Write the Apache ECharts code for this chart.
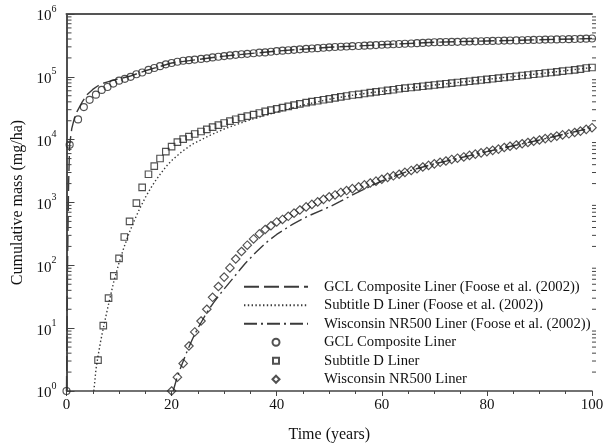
<!DOCTYPE html>
<html><head><meta charset="utf-8">
<script src="https://cdn.jsdelivr.net/npm/echarts@6/dist/echarts.min.js"></script>
<style>html,body{margin:0;padding:0;background:#fff}#c{width:608px;height:448px}</style>
</head><body><div id="c"></div>
<script>
const FONT = '"Liberation Serif","Times New Roman",serif';

// ---- data (time in years, cumulative mass in mg/ha) ----
const NAMES = [
  'GCL Composite Liner (Foose et al. (2002))',
  'Subtitle D Liner (Foose et al. (2002))',
  'Wisconsin NR500 Liner (Foose et al. (2002))',
  'GCL Composite Liner',
  'Subtitle D Liner',
  'Wisconsin NR500 Liner'
];
const X_TICKS = [0, 20, 40, 60, 80, 100];
const Y_TICK_EXP = ['0', '1', '2', '3', '4', '5', '6'];
const MINOR_TICKS = [2,3,4,5,6,7,8,9, 20,30,40,50,60,70,80,90, 200,300,400,500,600,700,800,900,
  2000,3000,4000,5000,6000,7000,8000,9000, 20000,30000,40000,50000,60000,70000,80000,90000,
  200000,300000,400000,500000,600000,700000,800000,900000];

// Foose et al. (2002) curves
const GCL_F_T = [0, 0.2, 0.4, 0.6, 1, 1.5, 2, 3, 4, 5, 6, 7, 8, 9, 10, 12, 15, 20, 30, 40, 50, 60, 70, 80, 90, 100];
const GCL_F_M = [1, 100, 2000, 8300, 15000, 22000, 28000, 40000, 53000, 63000, 72000, 79000, 84000, 89000, 93000, 102000, 125000, 166000, 214000, 257000, 295000, 324000, 355000, 372000, 389000, 407000];

const SUB_F_T = [5.2, 5.6, 6, 6.5, 7, 7.5, 8, 9, 10, 11, 12, 13, 14, 15, 16, 17, 18, 19, 20, 22, 24, 27, 30, 35, 40, 45, 50, 55, 60, 70, 80, 90, 100];
const SUB_F_M = [1, 2.2, 3.6, 6.2, 10, 15.5, 24, 55, 110, 200, 340, 540, 820, 1200, 1680, 2260, 2950, 3780, 4650, 6500, 8500, 11400, 14800, 20800, 27500, 35500, 44000, 52000, 58900, 74100, 91200, 112000, 141000];

const WIS_F_T = [20.3, 21, 22, 23, 24, 25, 26, 27, 28, 29, 30, 31, 32, 33, 34, 36, 38, 40, 43, 46, 50, 52, 55, 60, 65, 70, 80, 90, 100];
const WIS_F_M = [1, 1.6, 2.7, 4.4, 6.8, 10, 14, 19.5, 25.5, 33, 42, 53, 67, 85, 107, 160, 230, 310, 450, 610, 850, 1030, 1400, 2200, 3150, 4121, 6457, 9886, 15500];

// model results (markers)
const GCL_T = [0, 0.6, 2.2, 3.3, 4.4, 5.6, 6.7, 7.8, 8.9, 10,
  11.1, 12.2, 13.3, 14.4, 15.6, 16.7, 17.8, 18.9, 20, 21.1,
  22.2, 23.3, 24.4, 25.6, 26.7, 27.8, 28.9, 30, 31.1, 32.2,
  33.3, 34.4, 35.6, 36.7, 37.8, 38.9, 40, 41.1, 42.2, 43.3,
  44.4, 45.6, 46.7, 47.8, 48.9, 50, 51.1, 52.2, 53.3, 54.4,
  55.6, 56.7, 57.8, 58.9, 60, 61.1, 62.2, 63.3, 64.4, 65.6,
  66.7, 67.8, 68.9, 70, 71.1, 72.2, 73.3, 74.4, 75.6, 76.7,
  77.8, 78.9, 80, 81.1, 82.2, 83.3, 84.4, 85.6, 86.7, 87.8,
  88.9, 90, 91.1, 92.2, 93.3, 94.4, 95.6, 96.7, 97.8, 98.9, 100];
const GCL_M = [1, 8300, 21000, 33000, 43000, 52000, 62000, 69000, 78000, 87000,
  93000, 100000, 110000, 117000, 129000, 138000, 148000, 158000, 166000, 174000,
  180000, 184000, 188000, 193000, 197000, 204000, 209000, 214000, 219000, 224000,
  229000, 232000, 237000, 243000, 245000, 251000, 257000, 261000, 265000, 269000,
  274000, 278000, 282000, 286000, 290000, 295000, 298000, 301000, 304000, 308000,
  310000, 313000, 316000, 320000, 324000, 327000, 330000, 333000, 336000, 339000,
  343000, 347000, 351000, 355000, 356000, 358000, 360000, 361000, 363000, 365000,
  367000, 369000, 372000, 373000, 375000, 377000, 378000, 380000, 382000, 385000,
  387000, 389000, 391000, 393000, 394000, 396000, 398000, 400000, 403000, 405000, 407000];

const SUB_T = [6, 7, 8, 9, 10, 11, 12,
  13.3, 14.4, 15.6, 16.7, 17.8, 18.9, 20, 21.1, 22.2, 23.3,
  24.4, 25.6, 26.7, 27.8, 28.9, 30, 31.1, 32.2, 33.3, 34.4,
  35.6, 36.7, 37.8, 38.9, 40, 41.1, 42.2, 43.3, 44.4, 45.6,
  46.7, 47.8, 48.9, 50, 51.1, 52.2, 53.3, 54.4, 55.6, 56.7,
  57.8, 58.9, 60, 61.1, 62.2, 63.3, 64.4, 65.6, 66.7, 67.8,
  68.9, 70, 71.1, 72.2, 73.3, 74.4, 75.6, 76.7, 77.8, 78.9,
  80, 81.1, 82.2, 83.3, 84.4, 85.6, 86.7, 87.8, 88.9, 90,
  91.1, 92.2, 93.3, 94.4, 95.6, 96.7, 97.8, 98.9, 100];
const SUB_M = [3.1, 11, 30, 68, 129, 282, 501,
  977, 1740, 2820, 3800, 5010, 6460, 7760, 9120, 10200, 11200,
  12300, 13500, 14600, 15800, 17000, 18400, 19700, 21100, 22400, 23700,
  25100, 26600, 28200, 29500, 30900, 32400, 33900, 35500, 37200, 38900,
  40300, 41700, 43200, 44700, 46200, 47900, 49500, 51300, 52500, 54300,
  56200, 57500, 58900, 61000, 62400, 64600, 66100, 67600, 69200, 70800,
  72400, 74100, 75900, 77600, 79400, 81300, 83200, 85100, 87100, 89100,
  91200, 93300, 95500, 97700, 100000, 102000, 105000, 107000, 110000, 112000,
  115000, 117000, 120000, 123000, 126000, 129000, 133000, 138000, 141000];

const WIS_T = [20, 21.1, 22.2, 23.3, 24.4, 25.6, 26.7, 27.8, 28.9, 30,
  31.1, 32.2, 33.3, 34.4, 35.6, 36.7, 37.8, 38.9, 40, 41.1,
  42.2, 43.3, 44.4, 45.6, 46.7, 47.8, 48.9, 50, 51.1, 52.2,
  53.3, 54.4, 55.6, 56.7, 57.8, 58.9, 60, 61.1, 62.2, 63.3,
  64.4, 65.6, 66.7, 67.8, 68.9, 70, 71.1, 72.2, 73.3, 74.4,
  75.6, 76.7, 77.8, 78.9, 80, 81.1, 82.2, 83.3, 84.4, 85.6,
  86.7, 87.8, 88.9, 90, 91.1, 92.2, 93.3, 94.4, 95.6, 96.7,
  97.8, 98.9, 100];
const WIS_M = [1, 1.66, 2.75, 5.2, 8.7, 13, 20, 31, 46, 65,
  91, 126, 166, 209, 263, 316, 372, 427, 490, 537,
  603, 676, 759, 851, 933, 1023, 1122, 1230, 1318, 1445,
  1549, 1660, 1778, 1905, 2042, 2188, 2344, 2512, 2661, 2818,
  3020, 3236, 3467, 3673, 3890, 4121, 4365, 4571, 4842, 5070,
  5309, 5623, 5888, 6166, 6457, 6761, 7079, 7499, 7852, 8222,
  8610, 9016, 9441, 9886, 10400, 10800, 11400, 11900, 12400, 13000,
  13700, 14600, 15500];

const zip = (t, m) => t.map((x, i) => [x, m[i]]);
const INK = '#262626';
const CLEAR = 'rgba(0,0,0,0)';

// legend icon shapes: invisible moves keep a 64x7 box so the symbol stays centred and unstretched
const ICON_RECT = 'path://M0,0M64,7M29,0.5L35,0.5L35,6.5L29,6.5Z';
const ICON_DIAMOND = 'path://M0,0M64,7M32,-0.5L36,3.5L32,7.5L28,3.5Z';

const chart = echarts.init(document.getElementById('c'), null, {renderer: 'canvas'});

const lineSeries = (name, t, m, dash) => ({
  name, type: 'line', data: zip(t, m), symbol: 'none', showSymbol: false,
  lineStyle: {color: '#3a3a3a', width: 1.4, type: dash},
  itemStyle: {color: CLEAR, borderColor: CLEAR, borderWidth: 0},
  z: 3, silent: true, clip: true
});
const markSeries = (name, t, m, sym, size) => ({
  name, type: 'scatter', data: zip(t, m), symbol: sym, symbolSize: size, symbolKeepAspect: true,
  itemStyle: {color: 'rgba(255,255,255,0)', borderColor: INK, borderWidth: 1.15},
  z: 4, silent: true
});

chart.setOption({
  animation: false,
  backgroundColor: '#fff',
  grid: {left: 66.5, right: 16, top: 14, bottom: 56, containLabel: false},
  xAxis: [{
    type: 'value', min: 0, max: 100, interval: 20, position: 'bottom',
    name: 'Time (years)', nameLocation: 'middle', nameGap: 36,
    nameTextStyle: {fontFamily: FONT, fontSize: 16, color: '#111'},
    axisLine: {show: true, lineStyle: {color: '#444', width: 1.5}},
    axisTick: {show: true, inside: false, length: 5, lineStyle: {color: '#444', width: 1}},
    minorTick: {show: true, splitNumber: 4, length: 3, lineStyle: {color: '#444', width: 1}},
    axisLabel: {fontFamily: FONT, fontSize: 15, color: '#111', margin: 7,
      formatter: v => X_TICKS.includes(v) ? String(v) : ''},
    splitLine: {show: false}, minorSplitLine: {show: false}
  }, {
    type: 'value', min: 0, max: 100, position: 'top',
    axisLine: {show: true, lineStyle: {color: '#555', width: 2}},
    axisTick: {show: false}, axisLabel: {show: false}, splitLine: {show: false}
  }],
  yAxis: [{
    type: 'log', logBase: 10, min: 1, max: 1e6, position: 'left',
    name: 'Cumulative mass (mg/ha)', nameLocation: 'middle', nameGap: 41, nameRotate: 90,
    nameTextStyle: {fontFamily: FONT, fontSize: 16, color: '#111'},
    axisLine: {show: true, lineStyle: {color: '#444', width: 1.5}},
    axisTick: {show: true, inside: true, length: 8, lineStyle: {color: '#444', width: 1}},
    axisLabel: {
      margin: 10, color: '#111',
      formatter: v => '{b|10}{s|' + Y_TICK_EXP[Math.round(Math.log10(v))] + '}',
      rich: {
        b: {fontFamily: FONT, fontSize: 15, color: '#111', lineHeight: 20, verticalAlign: 'bottom'},
        s: {fontFamily: FONT, fontSize: 10, color: '#111', lineHeight: 12, verticalAlign: 'top'}
      }
    },
    splitLine: {show: false}
  }, {
    type: 'log', logBase: 10, min: 1, max: 1e6, position: 'right',
    axisLine: {show: true, lineStyle: {color: '#444', width: 1.5}},
    axisTick: {show: true, inside: false, length: 6, lineStyle: {color: '#444', width: 1}},
    axisLabel: {show: false}, splitLine: {show: false}
  }],
  legend: {
    orient: 'vertical', left: 243, top: 279, padding: 0, itemWidth: 64, itemHeight: 7, itemGap: 3,
    selectedMode: false,
    textStyle: {fontFamily: FONT, fontSize: 14.7, color: '#111', lineHeight: 15.5, padding: [0, 0, 0, 11]},
    data: [
      {name: NAMES[0]},
      {name: NAMES[1]},
      {name: NAMES[2]},
      {name: NAMES[3], icon: 'circle'},
      {name: NAMES[4], icon: ICON_RECT},
      {name: NAMES[5], icon: ICON_DIAMOND}
    ]
  },
  series: [
    lineSeries(NAMES[0], GCL_F_T, GCL_F_M, [15, 5]),
    lineSeries(NAMES[1], SUB_F_T, SUB_F_M, [1.4, 2.4]),
    lineSeries(NAMES[2], WIS_F_T, WIS_F_M, [13, 4, 2, 4]),
    markSeries(NAMES[3], GCL_T, GCL_M, 'circle', 7),
    markSeries(NAMES[4], SUB_T, SUB_M, 'rect', 6.5),
    markSeries(NAMES[5], WIS_T, WIS_M, 'diamond', 8.5),
    {
      type: 'custom', silent: true, clip: false, z: 5,
      data: MINOR_TICKS.map(v => [0, v]),
      encode: {x: 0, y: 1},
      renderItem: (params, api) => {
        const v = api.value(1);
        const l = api.coord([0, v]);
        const r = api.coord([100, v]);
        return {type: 'group', children: [
          {type: 'line', shape: {x1: l[0], y1: l[1], x2: l[0] + 5, y2: l[1]}, style: {stroke: '#444', lineWidth: 1}},
          {type: 'line', shape: {x1: r[0], y1: r[1], x2: r[0] + 4, y2: r[1]}, style: {stroke: '#444', lineWidth: 1}}
        ]};
      }
    }
  ]
});
</script></body></html>
